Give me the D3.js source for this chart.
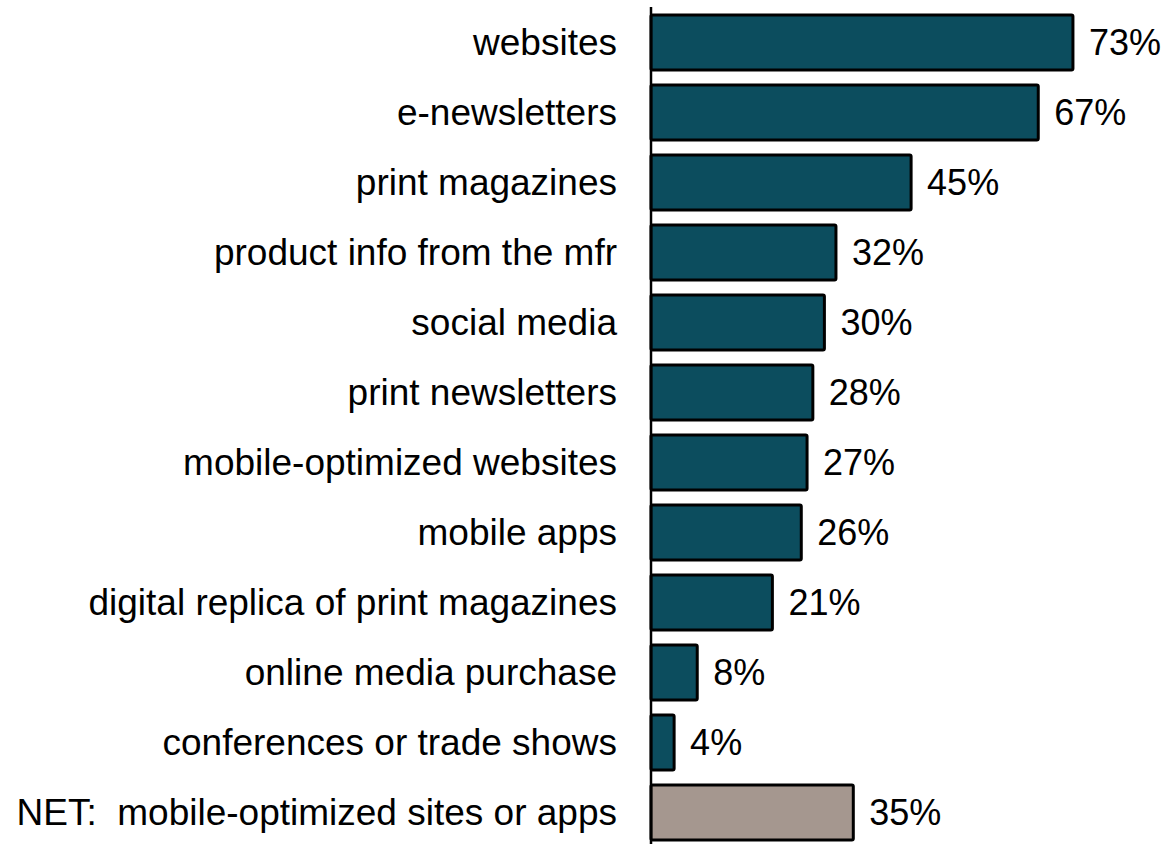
<!DOCTYPE html>
<html>
<head>
<meta charset="utf-8">
<script src="https://cdn.jsdelivr.net/npm/d3@7"></script>
<style>
  html, body { margin: 0; padding: 0; background: #ffffff; }
  svg { display: block; }
  text { font-family: "Liberation Sans", Arial, sans-serif; fill: #000; white-space: pre; }
</style>
</head>
<body>
<svg id="chart" width="1168" height="844"></svg>
<script>
// Share of respondents using each information source
const categories = [
  "websites",
  "e-newsletters",
  "print magazines",
  "product info from the mfr",
  "social media",
  "print newsletters",
  "mobile-optimized websites",
  "mobile apps",
  "digital replica of print magazines",
  "online media purchase",
  "conferences or trade shows",
  "NET:  mobile-optimized sites or apps"
];
const values = [73, 67, 45, 32, 30, 28, 27, 26, 21, 8, 4, 35];
const netCategory = "NET:  mobile-optimized sites or apps";

const rows = categories.map((c, i) => ({ category: c, value: values[i] }));

const svg = d3.select("#chart");
const axisX = 651;

const x = d3.scaleLinear().domain([0, 100]).range([axisX, axisX + 578]);
const y = d3.scaleBand()
  .domain(categories)
  .range([7.5, 847.5])
  .paddingInner(15 / 70)
  .paddingOuter(7.5 / 70);

// Bars
svg.append("g")
  .selectAll("rect")
  .data(rows)
  .join("rect")
  .attr("x", x(0))
  .attr("y", d => y(d.category))
  .attr("width", d => x(d.value) - x(0))
  .attr("height", y.bandwidth())
  .attr("rx", 1.5)
  .attr("fill", d => d.category === netCategory ? "#a5978f" : "#0c4d5e")
  .attr("stroke", "#000")
  .attr("stroke-width", 3)
  .attr("stroke-linejoin", "round");

// Vertical category axis line
svg.append("line")
  .attr("x1", axisX).attr("x2", axisX)
  .attr("y1", 7).attr("y2", 844)
  .attr("stroke", "#000")
  .attr("stroke-width", 2.5);

// Category labels
svg.append("g")
  .selectAll("text")
  .data(rows)
  .join("text")
  .attr("x", axisX - 34)
  .attr("y", d => y(d.category) + y.bandwidth() / 2)
  .attr("dy", "0.35em")
  .attr("text-anchor", "end")
  .attr("xml:space", "preserve")
  .style("font-size", "37px")
  .text(d => d.category);

// Value labels
svg.append("g")
  .selectAll("text")
  .data(rows)
  .join("text")
  .attr("x", d => x(d.value) + 16)
  .attr("y", d => y(d.category) + y.bandwidth() / 2)
  .attr("dy", "0.35em")
  .attr("text-anchor", "start")
  .style("font-size", "36px")
  .text(d => d.value + "%");
</script>
</body>
</html>
